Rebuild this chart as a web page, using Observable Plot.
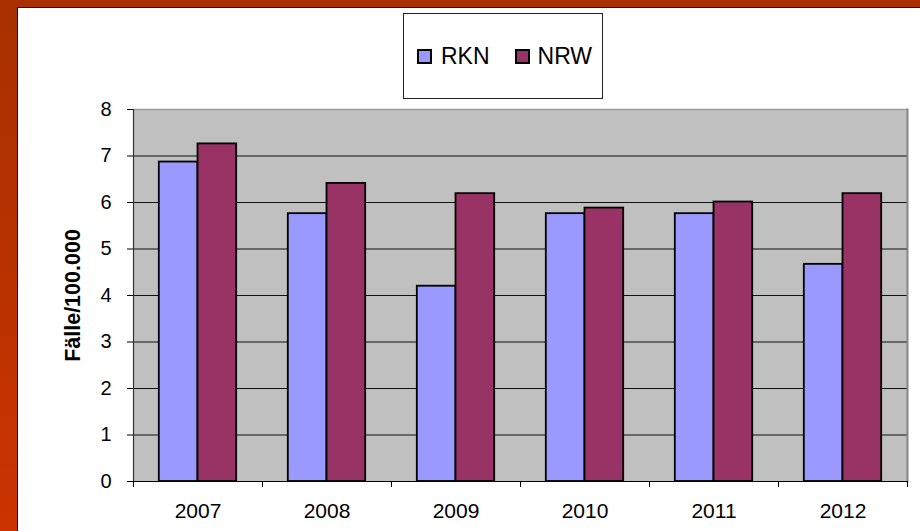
<!DOCTYPE html>
<html>
<head>
<meta charset="utf-8">
<script src="https://cdn.jsdelivr.net/npm/d3@7"></script>
<script src="https://cdn.jsdelivr.net/npm/@observablehq/plot@0.6"></script>
<style>
  html, body { margin: 0; padding: 0; }
  body { width: 920px; height: 531px; overflow: hidden; font-family: "Liberation Sans", Arial, sans-serif; }
  #page {
    position: relative; width: 920px; height: 531px;
    background: linear-gradient(to bottom, #a83000 0%, #b83200 50%, #cc3300 100%);
  }
  #panel {
    position: absolute; left: 17px; top: 7px; right: 0; bottom: 0;
    background: #ffffff; border-left: 1px solid #2a0c00; border-top: 1px solid #2a0c00;
  }
  #chart { position: absolute; left: 0; top: 0; }
  #legend {
    position: absolute; left: 385px; top: 5px; width: 200px; height: 86px;
    box-sizing: border-box; border: 1px solid #222; background: #fff;
    display: flex; align-items: center; padding-left: 13px;
    font-size: 23px; color: #000;
  }
  .item { display: flex; align-items: center; }
  .swatch { width: 15px; height: 15px; box-sizing: border-box; border: 2px solid #000; }
  .item span { margin-left: 9px; line-height: 1; }
  .item + .item { margin-left: 25px; }
  .item + .item span { margin-left: 8px; }
</style>
</head>
<body>
<div id="page">
  <div id="panel">
    <div id="chart"></div>
    <div id="legend"></div>
  </div>
</div>
<script>
// Cases per 100,000 inhabitants, district (RKN) vs. state (NRW)
const years = ["2007", "2008", "2009", "2010", "2011", "2012"];
const seriesNames = ["RKN", "NRW"];
const seriesColors = ["#9999ff", "#993366"];
const rkn = [6.87, 5.76, 4.2, 5.76, 5.76, 4.67];
const nrw = [7.26, 6.41, 6.19, 5.88, 6.01, 6.19];
const yTicks = [0, 1, 2, 3, 4, 5, 6, 7, 8];
const yLabel = "Fälle/100.000";

// Long-format table: one row per year and series
const seriesValues = [rkn, nrw];
const records = [];
years.forEach((year, i) => {
  seriesNames.forEach((name, k) => {
    records.push({year, index: i, series: name, k, value: seriesValues[k][i]});
  });
});

// Each year occupies one unit on x; the two bars sit side by side around its centre
const barWidth = 0.3;
const centers = years.map((_, i) => i);
const boundaries = d3.range(years.length + 1).map(i => i - 0.5);

const chart = Plot.plot({
  width: 902,
  height: 523,
  marginLeft: 115,
  marginRight: 13,
  marginTop: 101,
  marginBottom: 50,
  style: {fontFamily: "'Liberation Sans', Arial, sans-serif", color: "#000", background: "transparent"},
  x: {type: "linear", domain: [-0.5, years.length - 0.5], axis: null},
  y: {domain: [0, 8], axis: null},
  color: {domain: seriesNames, range: seriesColors},
  marks: [
    Plot.frame({fill: "#c0c0c0", stroke: null}),
    Plot.ruleY(yTicks.filter(t => t > 0 && t < 8), {stroke: "#111", strokeWidth: 1}),
    Plot.ruleY([8], {stroke: "#9a9a9a", strokeWidth: 1.5}),
    Plot.frame({anchor: "right", stroke: "#858585", strokeWidth: 2}),
    Plot.rectY(records, {
      x1: d => d.index + (d.k - 1) * barWidth,
      x2: d => d.index + d.k * barWidth,
      y: "value",
      fill: "series",
      stroke: "#000",
      strokeWidth: 1.8
    }),
    Plot.ruleY([0], {stroke: "#000", strokeWidth: 1}),
    Plot.ruleX([-0.5], {stroke: "#333", strokeWidth: 1.2}),
    Plot.axisY(yTicks, {
      tickSize: 6, tickPadding: 16, fontSize: 20, label: null, stroke: "#000"
    }),
    Plot.axisX(boundaries, {
      tickSize: 6, tickFormat: () => "", label: null, stroke: "#000"
    }),
    Plot.axisX(centers, {
      tickSize: 0, tickPadding: 22, fontSize: 21, label: null,
      tickFormat: i => years[i]
    }),
    Plot.text([yLabel], {
      frameAnchor: "left", textAnchor: "middle", lineAnchor: "middle",
      rotate: -90, dx: -60,
      fontSize: 21.5, fontWeight: "bold", fill: "#000"
    })
  ]
});
document.getElementById("chart").appendChild(chart);

// Legend box
const legend = d3.select("#legend");
seriesNames.forEach((name, k) => {
  const item = legend.append("div").attr("class", "item");
  item.append("div").attr("class", "swatch").style("background", seriesColors[k]);
  item.append("span").text(name);
});
</script>
</body>
</html>
